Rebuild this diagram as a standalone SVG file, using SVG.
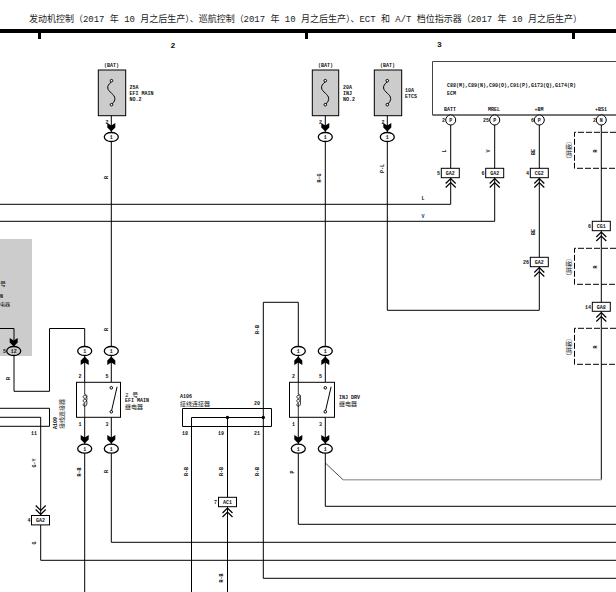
<svg xmlns="http://www.w3.org/2000/svg" width="616" height="592" viewBox="0 0 616 592">
<style>
text{font-family:"Liberation Mono","Noto Sans CJK SC",monospace;font-size:5px;font-weight:700;fill:#111}
.hd{font-size:9px;font-weight:400;fill:#222}
.m{text-anchor:middle}
.e{text-anchor:end}
.w{fill:none;stroke:#000;stroke-width:1}
.b{fill:#fff;stroke:#000;stroke-width:1}
.f{fill:#ccc;stroke:#000;stroke-width:1}
.d{fill:none;stroke:#000;stroke-width:1;stroke-dasharray:6 2}
.o{fill:#fff;stroke:#000;stroke-width:1.300}
.ch{fill:none;stroke:#000;stroke-width:1.200}
.c{font-weight:400;font-size:6px}
</style>
<defs>
<path id="ad" d="M-4-5L0-2.500 4-5V-.5L0 3.500-4-.5Z"/>
<path id="au" d="M-4 5L0 2.500 4 5V.5L0-3.500-4 .5Z"/>
<path id="cu" class="ch" d="M-5 5L0 0 5 5M-5 9L0 4 5 9"/>
<path id="cd" class="ch" d="M-5-5L0 0 5-5M-5-9L0-4 5-9"/>
<g id="fuse"><path class="w" d="M0 1C-6 6 -4 9 0 12.500S5 19 0 24"/><circle class="b" cx="0" cy="0" r="1.300"/><circle class="b" cx="0" cy="24" r="1.300"/></g>
<g id="relayc"><path fill="none" stroke="#000" stroke-width=".8" d="M0 0V12C3 12 3 16 0 16C-2 16-2 13 0 13C3 13 3 20 0 20C-2 20-2 17 0 17C3 17 3 24 0 24C-2 24-2 21 0 21V35"/></g>
<g id="relays"><path class="w" d="M0 29.500L5.800 4.500"/><circle class="b" cx="0" cy="5.500" r="1.300"/><circle class="b" cx="0" cy="29.500" r="1.300"/></g>
</defs>

<g id="header">
<text class="hd" x="29" y="21.500" textLength="553" lengthAdjust="spacing">发动机控制（2017 年 10 月之后生产）、巡航控制（2017 年 10 月之后生产）、ECT 和 A/T 档位指示器（2017 年 10 月之后生产）</text>
<rect x="0" y="29" width="616" height="4" fill="#000"/>
<rect x="38" y="29" width="3" height="10" fill="#000"/>
<rect x="305" y="29" width="3" height="10" fill="#000"/>
<rect x="572" y="29" width="3" height="10" fill="#000"/>
<text class="m" x="173" y="48" style="font-size:8px">2</text>
<text class="m" x="439.500" y="47" style="font-size:8px">3</text>
</g>

<rect id="shade" x="0" y="239" width="32" height="117" fill="#ccc"/>
<g id="shade-label">
<text x="0" y="285.500" class="c">号</text>
<text x="0" y="298">N</text>
<text x="0" y="305.500" class="c" style="font-size:5px">电器</text>
</g>

<g id="connectors">
<path class="w" d="M111.300 105V382"/>
<path class="w" d="M325.300 105V382"/>
<path class="w" d="M387.300 105V310.300H539.300V262"/>
<path class="w" d="M450.700 125V204.300H0"/>
<path class="w" d="M494.700 125V221.300H0"/>
<path class="w" d="M539.300 125V258"/>
<path class="w" d="M601.300 125V479.700"/>
<path fill="none" stroke="#aaa" stroke-width="1.500" d="M343 479.700H601.300"/>
<path fill="none" stroke="#000" stroke-width=".7" d="M325.300 463L343 479.700"/>
<path class="w" d="M0 328.500H14V391.300H49.500V328.500H84.700V382"/>
<path class="w" d="M84.700 417V592"/>
<path class="w" d="M111.300 417V542.300H616"/>
<path class="w" d="M0 417.300H40.700V560.300H616"/>
<path class="w" d="M191.500 592V417.500H263.300"/>
<path class="w" d="M227.500 417.500V592"/>
<path class="w" d="M263.300 578.300V302.300H298.300V382"/>
<path class="w" d="M263.300 578.300H616"/>
<path class="w" d="M298.300 417V524.300H616"/>
<path class="w" d="M325.300 417V506.300H616"/>
<circle cx="227.500" cy="417.500" r="1.700"/>
<circle cx="263.300" cy="417.500" r="1.700"/>
</g>

<g id="wire-labels">
<text class="m" transform="translate(107.500 177.500) rotate(-90)">R</text>
<text class="m" transform="translate(321 178) rotate(-90)">R-G</text>
<text class="m" transform="translate(383.500 168.500) rotate(-90)">P-L</text>
<text class="m" transform="translate(446 151) rotate(-90)">L</text>
<text class="m" transform="translate(490 151) rotate(-90)">V</text>
<text class="m" transform="translate(535 152) rotate(-90)">BE</text>
<text class="m" transform="translate(535 232) rotate(-90)">BE</text>
<text class="m" x="423" y="199.500">L</text>
<text class="m" x="423" y="217.500" style="fill:#147">V</text>
<text class="m" transform="translate(597 151) rotate(-90)">R</text>
<text class="m" transform="translate(597 267) rotate(-90)">R</text>
<text class="m" transform="translate(597 347) rotate(-90)">R</text>
<text class="m" transform="translate(107.500 329.500) rotate(-90)">R</text>
<text class="m" transform="translate(9.500 378.500) rotate(-90)">R</text>
<text class="m" transform="translate(259 329.500) rotate(-90)">R-B</text>
<text class="m" transform="translate(81 472) rotate(-90)">R-B</text>
<text class="m" transform="translate(107.500 471.500) rotate(-90)">R</text>
<text class="m" transform="translate(187.500 471.500) rotate(-90)">R-B</text>
<text class="m" transform="translate(223 471.500) rotate(-90)">R-B</text>
<text class="m" transform="translate(259 471.500) rotate(-90)">R-B</text>
<text class="m" transform="translate(294 472) rotate(-90)">P</text>
<text class="m" transform="translate(223 578) rotate(-90)">R-B</text>
<text class="m" transform="translate(36 463) rotate(-90)">G-Y</text>
<text class="m" transform="translate(36 543) rotate(-90)">G</text>
</g>

<g id="fuse-efi-main">
<text class="m" x="111.500" y="67">(BAT)</text>
<rect class="f" x="98.300" y="70" width="27.400" height="45.700"/>
<use href="#fuse" x="111.500" y="80.700"/>
<text x="129.500" y="89">25A</text><text x="129.500" y="95">EFI MAIN</text><text x="129.500" y="101">NO.2</text>
<text class="m" x="107" y="124">2</text>
<use href="#ad" x="111.300" y="128"/>
<ellipse class="o" cx="111.300" cy="137" rx="7" ry="4.500"/><text class="m" x="111.300" y="138.800">1</text>
</g>
<g id="fuse-inj">
<text class="m" x="325.500" y="67">(BAT)</text>
<rect class="f" x="312.300" y="70" width="26.400" height="45.700"/>
<use href="#fuse" x="325.300" y="80.700"/>
<text x="343" y="89">20A</text><text x="343" y="95">INJ</text><text x="343" y="101">NO.2</text>
<text class="m" x="320.500" y="124">2</text>
<use href="#ad" x="325.300" y="128"/>
<ellipse class="o" cx="325.300" cy="137" rx="7" ry="4.500"/><text class="m" x="325.300" y="138.800">1</text>
</g>
<g id="fuse-etcs">
<text class="m" x="387.500" y="67">(BAT)</text>
<rect class="f" x="374.300" y="70" width="27.400" height="45.700"/>
<use href="#fuse" x="387.300" y="80.700"/>
<text x="405" y="92">10A</text><text x="405" y="98">ETCS</text>
<text class="m" x="383" y="124">2</text>
<use href="#ad" x="387.300" y="128"/>
<ellipse class="o" cx="387.300" cy="137" rx="7" ry="4.500"/><text class="m" x="387.300" y="138.800">1</text>
</g>

<g id="ecm">
<path fill="#fff" stroke="#444" stroke-width="1" d="M616 61.500H432.500V115H616"/>
<path fill="none" stroke="#666" stroke-width="1.500" d="M432.500 115H616"/>
<text x="447" y="86.800">C88(M),C89(N),C90(O),C91(P),G173(Q),G174(R)</text>
<text x="447" y="95">ECM</text>
<text class="m" x="450" y="111">BATT</text>
<text class="m" x="494" y="111">MREL</text>
<text class="m" x="539" y="111">+BM</text>
<text class="m" x="601" y="111">+BS1</text>
<circle class="b" cx="450.700" cy="120" r="5"/><text class="m" x="450.700" y="121.800">P</text><text class="e" x="445" y="122">2</text>
<circle class="b" cx="494.700" cy="120" r="5"/><text class="m" x="494.700" y="121.800">P</text><text class="e" x="489" y="122">25</text>
<circle class="b" cx="539.300" cy="120" r="5"/><text class="m" x="539.300" y="121.800">P</text><text class="e" x="534" y="122">6</text>
<circle class="b" cx="601.300" cy="120" r="5"/><text class="m" x="601.300" y="121.800">N</text><text class="e" x="596" y="122">2</text>
</g>

<g id="shield-1"><path class="d" d="M616 132.300H574.500V168.300H616"/><text class="m c" transform="translate(571 150) rotate(-90)">（屏蔽）</text></g>
<g id="shield-2"><path class="d" d="M616 248.300H574.500V284.300H616"/><text class="m c" transform="translate(571 267) rotate(-90)">（屏蔽）</text></g>
<g id="shield-3"><path class="d" d="M616 328.300H574.500V364.300H616"/><text class="m c" transform="translate(571 347) rotate(-90)">（屏蔽）</text></g>

<g id="conn-sa2-5"><rect class="b" x="441.300" y="168.300" width="18" height="9.400"/><text class="m" x="450.300" y="174.800">GA2</text><text class="e" x="440" y="174.800">5</text><use href="#cu" x="450.700" y="178.500"/></g>
<g id="conn-sa2-6"><rect class="b" x="485.700" y="168.300" width="18" height="9.400"/><text class="m" x="494.700" y="174.800">GA2</text><text class="e" x="484.500" y="174.800">6</text><use href="#cu" x="494.700" y="178.500"/></g>
<g id="conn-cg2-4"><rect class="b" x="530.300" y="168.300" width="18" height="9.400"/><text class="m" x="539.300" y="174.800">CG2</text><text class="e" x="529" y="174.800">4</text><use href="#cu" x="539.300" y="178.500"/></g>
<g id="conn-ga2-26"><rect class="b" x="530.300" y="257.300" width="18" height="9.400"/><text class="m" x="539.300" y="263.800">GA2</text><text class="e" x="529" y="263.800">26</text><use href="#cu" x="539.300" y="267.500"/></g>
<g id="conn-cg1-6"><rect class="b" x="592.300" y="221.300" width="18" height="9.400"/><text class="m" x="601.300" y="227.800">CG1</text><text class="e" x="591" y="227.800">6</text><use href="#cu" x="601.300" y="232"/></g>
<g id="conn-ga8-14"><rect class="b" x="592.300" y="302.300" width="18" height="9"/><text class="m" x="601.300" y="308.500">GA8</text><text class="e" x="591" y="308.500">14</text><use href="#cu" x="601.300" y="312.500"/></g>
<g id="conn-sa2-4"><use href="#cd" x="40.700" y="514.500"/><rect class="b" x="31.500" y="515.500" width="18" height="9.400"/><text class="m" x="40.500" y="522">GA2</text><text class="e" x="30.500" y="522">4</text></g>
<g id="conn-ac1-7"><rect class="b" x="218.500" y="497.300" width="18" height="9.400"/><text class="m" x="227.500" y="503.800">AC1</text><text class="e" x="217" y="503.800">7</text><use href="#cu" x="227.500" y="508"/></g>

<g id="conn-12"><use href="#ad" x="13.700" y="343"/><ellipse class="o" style="fill:#ccc" cx="13.700" cy="351" rx="7" ry="4.500"/><text class="m" x="13.700" y="352.800">12</text><text class="e" x="6" y="352.800">5</text></g>

<g id="relay-efi-main">
<g id="oval-efi-t1"><ellipse class="o" cx="84.700" cy="351" rx="7" ry="4.500"/><text class="m" x="84.700" y="352.800">1</text><use href="#au" x="84.700" y="360"/></g>
<g id="oval-efi-t2"><ellipse class="o" cx="111.300" cy="351" rx="7" ry="4.500"/><text class="m" x="111.300" y="352.800">1</text><use href="#au" x="111.300" y="360"/></g>
<rect class="b" x="76.500" y="382.300" width="44" height="35"/>
<use href="#relayc" x="84.700" y="382.300"/>
<use href="#relays" x="111.300" y="382.300"/>
<text class="m" x="80" y="378">2</text><text class="m" x="107" y="378">5</text>
<text class="m" x="80" y="426">1</text><text class="m" x="107" y="426">3</text>
<text x="125" y="396.500" class="c">2 号</text><text x="125" y="401.500">EFI MAIN</text><text x="125" y="409" class="c">继电器</text>
<use href="#ad" x="84.700" y="440"/><ellipse class="o" cx="84.700" cy="448.700" rx="7" ry="4.500"/><text class="m" x="84.700" y="450.500">1</text>
<use href="#ad" x="111.300" y="440"/><ellipse class="o" cx="111.300" cy="448.700" rx="7" ry="4.500"/><text class="m" x="111.300" y="450.500">1</text>
</g>

<g id="relay-inj-drv">
<g id="oval-inj-t1"><ellipse class="o" cx="298.300" cy="351" rx="7" ry="4.500"/><text class="m" x="298.300" y="352.800">1</text><use href="#au" x="298.300" y="360"/></g>
<g id="oval-inj-t2"><ellipse class="o" cx="325.300" cy="351" rx="7" ry="4.500"/><text class="m" x="325.300" y="352.800">1</text><use href="#au" x="325.300" y="360"/></g>
<rect class="b" x="289.500" y="382.300" width="45" height="35"/>
<use href="#relayc" x="298.300" y="382.300"/>
<use href="#relays" x="325.300" y="382.300"/>
<text class="m" x="293.500" y="378">2</text><text class="m" x="320.500" y="378">5</text>
<text class="m" x="293.500" y="426">1</text><text class="m" x="320.500" y="426">3</text>
<text x="339" y="399">INJ DRV</text><text x="339" y="405.500" class="c">继电器</text>
<use href="#ad" x="298.300" y="440"/><ellipse class="o" cx="298.300" cy="448.700" rx="7" ry="4.500"/><text class="m" x="298.300" y="450.500">1</text>
<use href="#ad" x="325.300" y="440"/><ellipse class="o" cx="325.300" cy="448.700" rx="7" ry="4.500"/><text class="m" x="325.300" y="450.500">1</text>
</g>

<g id="a106">
<path class="w" d="M182.500 408.500H271.500V426.500H182.500Z"/>
<text x="180" y="398">A106</text><text x="180" y="405.500" class="c">接线连接器</text>
<text class="m" x="257" y="405">20</text><text class="m" x="185" y="435">18</text><text class="m" x="221" y="435">19</text><text class="m" x="257" y="435">21</text>
</g>
<g id="a109">
<path class="w" d="M0 408.300H49.500V426.300H0"/>
<text class="m" x="34" y="435">11</text>
<text transform="translate(57 429) rotate(-90)">A109</text>
<text class="c" transform="translate(64 429) rotate(-90)">接线连接器</text>
</g>
</svg>
